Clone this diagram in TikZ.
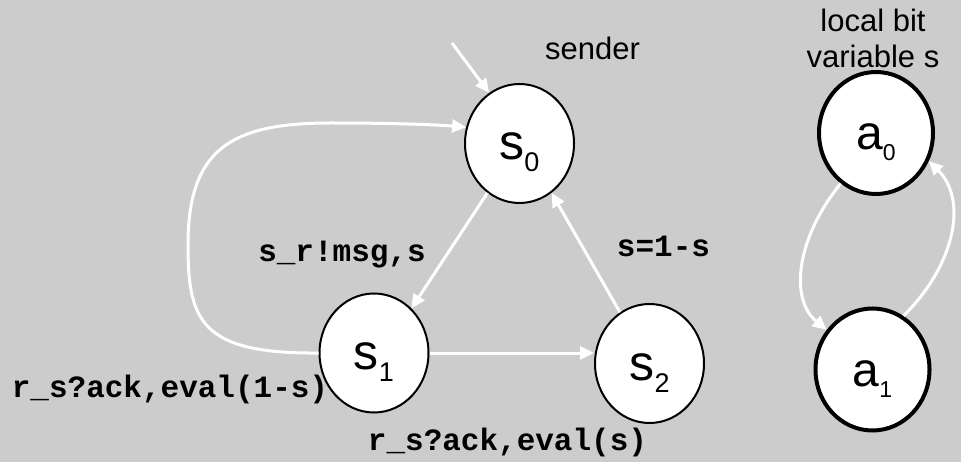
\documentclass[tikz,border=0pt]{standalone}
\usepackage{fontspec}
\setmainfont{Liberation Sans}
\newfontfamily\codefont{Liberation Mono}
\usetikzlibrary{shapes.geometric,arrows.meta}

% state label: letter with a lowered index, box height fixed so the letter sits low in the ellipse
\newcommand{\stlabel}[5]{\raisebox{0pt}[33pt][0pt]{\fontsize{#3}{#3}\selectfont #1\raisebox{-#5pt}{\fontsize{#4}{#4}\selectfont #2}}}

\begin{document}
\begin{tikzpicture}[x=1pt,y=-1pt,
  state/.style={ellipse,draw=black,line width=2pt,fill=white,inner sep=0pt,
                minimum width=109pt,minimum height=119pt},
  varstate/.style={state,line width=4pt,minimum width=114pt,minimum height=122pt},
  trans/.style={draw=white,line width=3pt,-{Triangle[length=14pt,width=13pt]}},
  code/.style={font=\codefont\bfseries\fontsize{31}{31}\selectfont,anchor=base,inner sep=0pt},
  caption/.style={font=\fontsize{31}{31}\selectfont,anchor=base,inner sep=0pt}]

% backdrop
\fill[fill={rgb,255:red,204;green,204;blue,204}] (0,0) rectangle (961,462);
\useasboundingbox (0,0) rectangle (961,462);

% captions and transition labels
\node[caption] (sender) at (592.5,60) {sender};
\node[caption] (lbit) at (873,32) {local bit};
\node[caption] (lvar) at (873,68) {variable s};
\node[code] (l01) at (342,262) {s\_r!msg,s};
\node[code] (l20) at (663.5,257) {s=1-s};
\node[code] (l12) at (507.5,450) {r\_s?ack,eval(s)};
\node[code] (l10) at (170,397) {r\_s?ack,eval(1-s)};

% sender states
\node[state] (s0) at (519.5,143.5) {\stlabel{s}{0}{50}{27}{12}};
\node[state] (s1) at (374,353) {\stlabel{s}{1}{50}{27}{12}};
\node[state] (s2) at (649.5,363.5) {\stlabel{s}{2}{50}{27}{12}};

% bit variable states
\node[varstate] (a0) at (876,133) {\stlabel{a}{0}{48}{23}{11}};
\node[varstate] (a1) at (872.5,369.5) {\stlabel{a}{1}{48}{23}{11}};

% transitions
\coordinate (init) at (452,43);
\draw[trans] (init) -- (s0.121);
\draw[trans] (s0.237) -- (s1.50);
\draw[trans] (s1.east) -- (s2.west |- s1.east);
\draw[trans] (s2.120) -- (s0.303);
\draw[trans] (s1.west) .. controls (200,354) and (188,320) .. (188,245)
                       .. controls (188,150) and (230,123) .. (330,123)
                       .. controls (400,123) and (440,125) .. (s0.163);
\draw[trans] (a0.235) .. controls (795,240) and (790,300) .. (a1.139);
\draw[trans] (a1.60) .. controls (955,265) and (968,200) .. (a0.-28);
\end{tikzpicture}
\end{document}
